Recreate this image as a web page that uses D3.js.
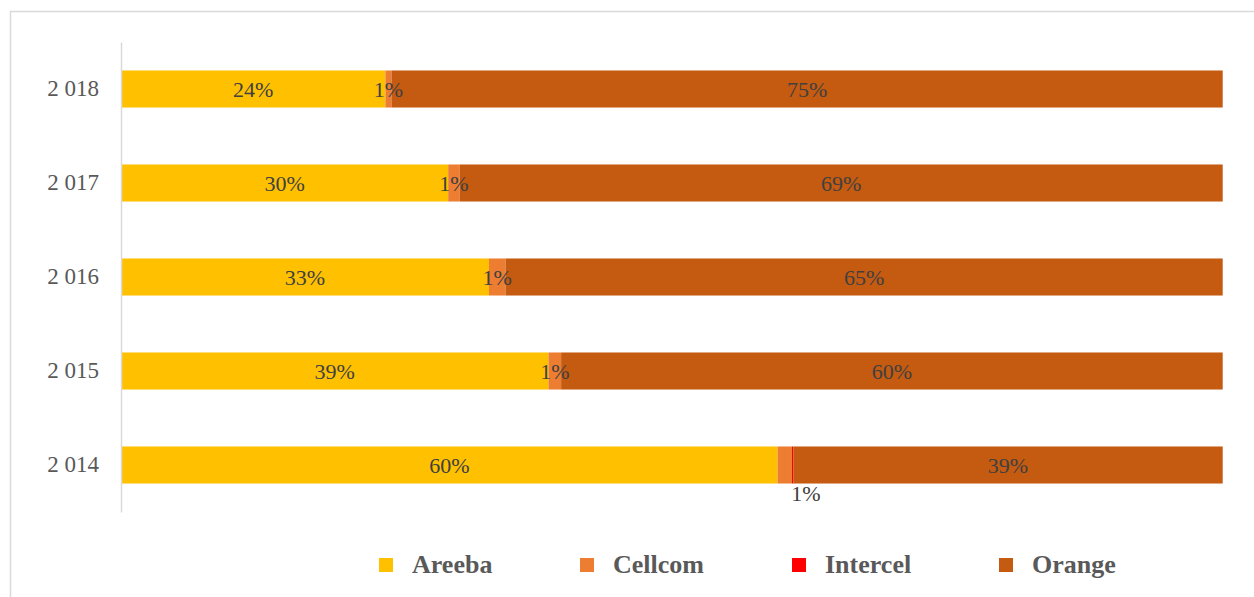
<!DOCTYPE html>
<html>
<head>
<meta charset="utf-8">
<script src="https://cdn.jsdelivr.net/npm/d3@7"></script>
<style>
  body { margin: 0; background: #fff; }
  svg { display: block; }
  .year text { font-family: 'Liberation Serif', 'Times New Roman', serif; font-size: 23px; fill: #595959; }
  .val { font-family: 'Liberation Serif', 'Times New Roman', serif; font-size: 22px; fill: #404040; }
  .legend text { font-family: 'Liberation Serif', 'Times New Roman', serif; font-size: 26px; font-weight: bold; fill: #595959; }
</style>
</head>
<body>
<div id="chart"></div>
<script>
const years = ['2 018', '2 017', '2 016', '2 015', '2 014'];
const seriesNames = ['Areeba', 'Cellcom', 'Intercel', 'Orange'];
const areeba = [24.0, 29.7, 33.4, 38.8, 59.6];
const cellcom = [0.55, 1.05, 1.5, 1.15, 1.3];
const intercel = [0, 0, 0, 0, 0.12];
const orange = [75.45, 69.25, 65.1, 60.05, 38.98];
const labelAreeba = ['24%', '30%', '33%', '39%', '60%'];
const labelCellcom = ['1%', '1%', '1%', '1%', '1%'];
const labelOrange = ['75%', '69%', '65%', '60%', '39%'];

const colors = {
  Areeba: '#FFC000',
  Cellcom: '#ED7D31',
  Intercel: '#FF0000',
  Orange: '#C55A11'
};

const width = 1254;
const height = 597;

const rows = years.map((year, i) => ({
  year,
  Areeba: areeba[i],
  Cellcom: cellcom[i],
  Intercel: intercel[i],
  Orange: orange[i],
  labels: { Areeba: labelAreeba[i], Cellcom: labelCellcom[i], Orange: labelOrange[i] }
}));

const svg = d3
  .select('#chart')
  .append('svg')
  .attr('width', width)
  .attr('height', height);

// chart frame
svg
  .append('rect')
  .attr('x', 10.5)
  .attr('y', 11.5)
  .attr('width', width + 20)
  .attr('height', height + 20)
  .attr('fill', '#fff')
  .attr('stroke', '#d9d9d9')
  .attr('stroke-width', 1.5);

const x = d3.scaleLinear().domain([0, 100]).range([121, 1222.7]);
const y = d3
  .scaleBand()
  .domain(years)
  .range([42, 512])
  .paddingInner(0.606)
  .paddingOuter(0.303);

const stack = d3.stack().keys(seriesNames);
const stacked = stack(rows);

const layers = svg
  .selectAll('g.layer')
  .data(stacked)
  .join('g')
  .attr('class', 'layer')
  .attr('fill', d => colors[d.key]);

layers
  .selectAll('rect')
  .data(d => d)
  .join('rect')
  .attr('x', d => x(d[0]))
  .attr('y', d => y(d.data.year))
  .attr('width', d => x(d[1]) - x(d[0]))
  .attr('height', y.bandwidth());

// y axis
const yAxis = svg
  .append('g')
  .attr('class', 'year')
  .attr('transform', 'translate(121,0)')
  .call(d3.axisLeft(y).tickSize(0).tickPadding(22));
yAxis.select('.domain').attr('stroke', '#d9d9d9').attr('stroke-width', 1.5);
yAxis.selectAll('text').attr('font-family', null).attr('font-size', null);

// value labels
const labelData = [];
stacked.forEach(layer => {
  layer.forEach(d => {
    const text = d.data.labels[layer.key];
    if (!text) return;
    const mid = (x(d[0]) + x(d[1])) / 2;
    const below = layer.key === 'Cellcom' && d.data.year === '2 014';
    labelData.push({
      text,
      cx: below ? x(d[1]) + 14 : mid,
      cy: below
        ? y(d.data.year) + y.bandwidth() + 17
        : y(d.data.year) + y.bandwidth() / 2 + 8
    });
  });
});

svg
  .append('g')
  .selectAll('text')
  .data(labelData)
  .join('text')
  .attr('class', 'val')
  .attr('text-anchor', 'middle')
  .attr('x', d => d.cx)
  .attr('y', d => d.cy)
  .text(d => d.text);

// legend
const legendX = [379, 580, 792, 999];
const legend = svg
  .append('g')
  .attr('class', 'legend')
  .selectAll('g')
  .data(seriesNames)
  .join('g')
  .attr('transform', (d, i) => `translate(${legendX[i]}, 558)`);

legend
  .append('rect')
  .attr('width', 14)
  .attr('height', 14)
  .attr('fill', d => colors[d]);

legend
  .append('text')
  .attr('x', 33)
  .attr('y', 15)
  .text(d => d);
</script>
</body>
</html>
